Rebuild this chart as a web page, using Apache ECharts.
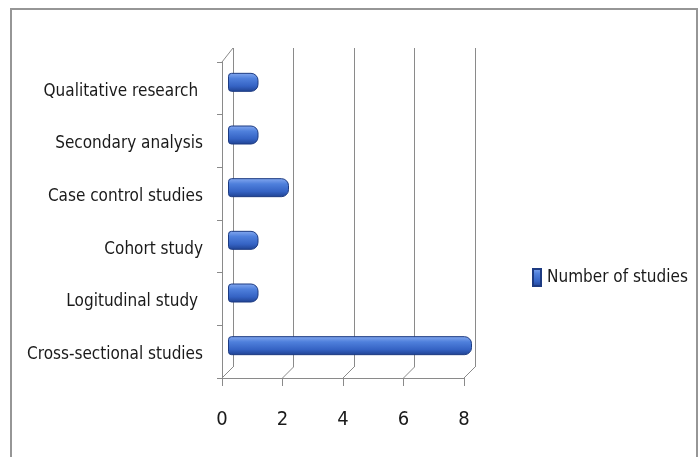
<!DOCTYPE html>
<html>
<head>
<meta charset="utf-8">
<script src="https://cdn.jsdelivr.net/npm/echarts@6/dist/echarts.min.js"></script>
<style>html,body{margin:0;padding:0;background:#fff;}#c{width:700px;height:457px;}</style>
</head>
<body>
<div id="c"></div>
<script>
// Data (bottom to top)
var categories = ['Cross-sectional studies', 'Logitudinal study ', 'Cohort study', 'Case control studies', 'Secondary analysis', 'Qualitative research '];
var studyCounts = [8, 1, 1, 2, 1, 1];
var seriesName = 'Number of studies';
var xTicks = [0, 2, 4, 6, 8];

var FONT = "'Liberation Sans Narrow', 'DejaVu Sans Condensed', sans-serif";
var GRAY = '#8a8a8a';
var chart = echarts.init(document.getElementById('c'), null, {renderer: 'canvas'});

var barGradient = new echarts.graphic.LinearGradient(0, 0, 0, 1, [
  {offset: 0, color: '#86aaf0'},
  {offset: 0.3, color: '#4f80dc'},
  {offset: 0.7, color: '#3563c4'},
  {offset: 1, color: '#1f4190'}
]);

var option = {
  backgroundColor: '#ffffff',
  animation: false,
  graphic: [{
    type: 'rect',
    shape: {x: 11, y: 9, width: 686, height: 470},
    style: {fill: 'none', stroke: '#969696', lineWidth: 2},
    silent: true
  }],
  legend: {
    data: [seriesName],
    left: 527, top: 263,
    icon: 'rect', itemWidth: 8, itemHeight: 17,
    textStyle: {fontFamily: FONT, fontSize: 17, color: '#1a1a1a', padding: [0, 0, 0, 1]}
  },
  grid: [
    {left: 233, top: 48, width: 242, height: 319, outerBoundsMode: 'none', containLabel: false},   // back wall
    {left: 228, top: 56, width: 244, height: 316, outerBoundsMode: 'none', containLabel: false},   // bars (mid depth)
    {left: 222, top: 62, width: 242, height: 316, outerBoundsMode: 'none', containLabel: false}    // front axes
  ],
  xAxis: [
    {gridIndex: 0, type: 'value', min: 0, max: 8, interval: 2,
     axisLine: {show: false}, axisTick: {show: false}, axisLabel: {show: false},
     splitLine: {show: true, lineStyle: {color: GRAY, width: 1}}},
    {gridIndex: 1, type: 'value', min: 0, max: 8, interval: 2, show: false, splitLine: {show: false}},
    {gridIndex: 2, type: 'value', min: 0, max: 8, interval: 2,
     axisLine: {show: true, lineStyle: {color: GRAY, width: 1}},
     axisTick: {show: true, length: 8, lineStyle: {color: GRAY}},
     axisLabel: {fontFamily: FONT, fontSize: 20, color: '#1a1a1a', margin: 32},
     splitLine: {show: false}}
  ],
  yAxis: [
    {gridIndex: 0, type: 'category', data: categories, show: false},
    {gridIndex: 1, type: 'category', data: categories, show: false},
    {gridIndex: 2, type: 'category', data: categories,
     axisLine: {show: true, lineStyle: {color: GRAY, width: 1}},
     axisTick: {show: true, length: 5, lineStyle: {color: GRAY}},
     axisLabel: {fontFamily: FONT, fontSize: 17, color: '#1a1a1a', margin: 19,
                 verticalAlign: 'top', lineHeight: 6},
     splitLine: {show: false}}
  ],
  series: [
    {
      name: seriesName,
      type: 'bar',
      xAxisIndex: 1, yAxisIndex: 1,
      data: studyCounts,
      barWidth: 19,
      itemStyle: {
        color: barGradient,
        borderColor: '#1d3b82', borderWidth: 1,
        borderRadius: [3, 7, 7, 3]
      },
      z: 5
    },
    {
      type: 'custom',
      xAxisIndex: 2, yAxisIndex: 2,
      silent: true,
      data: xTicks,
      renderItem: function (params, api) {
        var cs = params.coordSys;
        var x = api.coord([api.value(0), 0])[0];
        var yb = cs.y + cs.height;
        var children = [{
          type: 'line',
          shape: {x1: x, y1: yb, x2: x + 11, y2: yb - 11},
          style: {stroke: GRAY, lineWidth: 1}
        }];
        if (params.dataIndex === 0) {
          children.push({
            type: 'line',
            shape: {x1: x, y1: cs.y, x2: x + 11, y2: cs.y - 14},
            style: {stroke: GRAY, lineWidth: 1}
          });
        }
        return {type: 'group', children: children};
      },
      z: 1
    }
  ]
};
chart.setOption(option);
</script>
</body>
</html>
